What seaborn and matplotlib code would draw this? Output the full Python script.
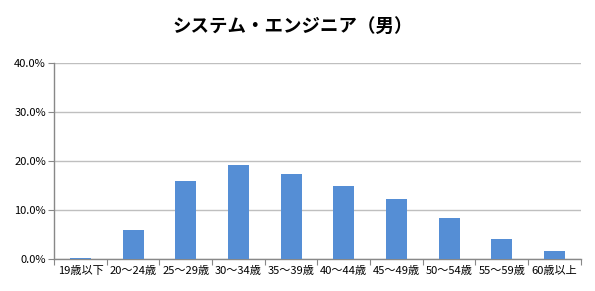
import numpy as np
import pandas as pd
import matplotlib.pyplot as plt
import seaborn as sns
from matplotlib.ticker import FuncFormatter

title = "システム・エンジニア（男）"
age_groups = ["19歳以下", "20～24歳", "25～29歳", "30～34歳", "35～39歳",
              "40～44歳", "45～49歳", "50～54歳", "55～59歳", "60歳以上"]
share = [0.3, 6.0, 16.0, 19.2, 17.4, 15.0, 12.3, 8.4, 4.1, 1.7]

df = pd.DataFrame({"age": age_groups, "share": share})

sns.set_style("white")
plt.rcParams["font.family"] = ["Noto Sans CJK JP", "DejaVu Sans"]

fig = plt.figure(figsize=(5.95, 2.91), dpi=100)
ax = fig.add_axes([0.091, 0.109, 0.885, 0.673])

sns.barplot(data=df, x="age", y="share", color="#558ED5", saturation=1,
            width=0.4, linewidth=0, ax=ax, zorder=3)

ax.set_ylim(0, 40)
ax.set_xlim(-0.5, len(age_groups) - 0.5)
ax.set_yticks([0, 10, 20, 30, 40])
ax.yaxis.set_major_formatter(FuncFormatter(lambda v, _: f"{v:.1f}%"))
ax.grid(axis="y", color="#bfbfbf", linewidth=1, zorder=0)

# category boundary ticks, labels centered between them
ax.set_xticks(np.arange(-0.5, len(age_groups), 1.0))
ax.set_xticklabels([])
ax.set_xticks(np.arange(len(age_groups)), minor=True)
ax.set_xticklabels(age_groups, minor=True, fontsize=8, color="black")
ax.tick_params(axis="x", which="major", length=4, color="#888888", direction="out", bottom=True)
ax.tick_params(axis="x", which="minor", length=0, pad=5)
ax.tick_params(axis="y", length=4, color="#888888", direction="out", labelsize=8,
               labelcolor="black", pad=2, left=True)

for s in ["top", "right"]:
    ax.spines[s].set_visible(False)
for s in ["left", "bottom"]:
    ax.spines[s].set_color("#888888")
    ax.spines[s].set_linewidth(1)

ax.set_xlabel("")
ax.set_ylabel("")
fig.text(0.492, 0.908, title, ha="center", va="center", fontsize=13.3,
         fontweight="bold", color="black")

plt.savefig("out.png", dpi=100)
plt.close()
